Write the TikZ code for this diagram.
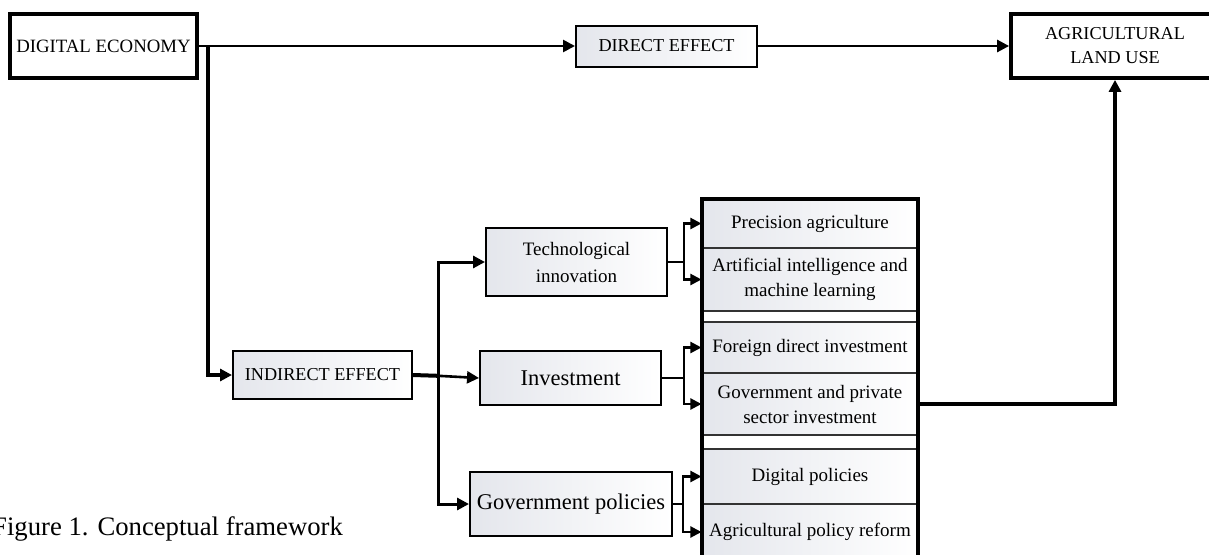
\documentclass[tikz,border=0pt]{standalone}
\usepackage{fontspec}
\setmainfont{Liberation Serif}
\usetikzlibrary{arrows.meta}
\definecolor{shadeL}{HTML}{E4E6EC}
\newcommand\cfCaps{\fontsize{18.2}{24}\selectfont}
\newcommand\cfMain{\fontsize{18.8}{24}\selectfont}
\newcommand\cfCell{\fontsize{19}{25}\selectfont}
\newcommand\cfTech{\fontsize{19}{27}\selectfont}
\newcommand\cfBig{\fontsize{22.5}{27}\selectfont}
\newcommand\cfFig{\fontsize{26.7}{32}\selectfont}
\begin{document}
\begin{tikzpicture}[x=1pt,y=-1pt,
  arr/.style={-{Triangle[length=12pt,width=12pt]}, line width=2.6pt},
  heavy/.style={draw, line width=3.8pt, fill=white, inner sep=0pt},
  shadedbox/.style={draw, line width=2pt, left color=shadeL, right color=white, inner sep=0pt, align=center},
  cell/.style={draw=black!80, line width=1.1pt, left color=shadeL, right color=white,
    inner sep=0pt, minimum width=216pt, align=center, font=\cfCell},
]
\useasboundingbox (0,0) rectangle (1209,554);
\clip (0,0) rectangle (1209,554);

% top row
\node[heavy, minimum width=187pt, minimum height=64pt, font=\cfMain] (de) at (103.5,46) {DIGITAL ECONOMY};
\node[shadedbox, minimum width=181pt, minimum height=41pt, font=\cfCaps] (direct) at (666.5,46) {DIRECT EFFECT};
\node[heavy, minimum width=208pt, minimum height=64pt, font=\cfCaps, align=center] (agr) at (1115,46) {AGRICULTURAL\\LAND USE};

% indirect channel
\node[shadedbox, minimum width=179pt, minimum height=48pt, font=\cfCaps] (indirect) at (322.5,375) {INDIRECT EFFECT};
\node[shadedbox, minimum width=181pt, minimum height=68pt, font=\cfTech] (tech) at (576.5,262) {Technological\\innovation};
\node[shadedbox, minimum width=181pt, minimum height=54pt, font=\cfBig] (invest) at (570.5,378) {Investment};
\node[shadedbox, minimum width=202pt, minimum height=64pt, font=\cfBig] (gov) at (571,504) {Government policies};

% column of mechanisms
\node[cell, minimum height=49pt] (c1) at (810,223.5) {Precision agriculture};
\node[cell, minimum height=63pt] (c2) at (810,279.5) {Artificial intelligence and\\machine learning};
\node[cell, minimum height=51pt] (c3) at (810,347.5) {Foreign direct investment};
\node[cell, minimum height=62pt] (c4) at (810,404) {Government and private\\sector investment};
\node[cell, minimum height=55pt] (c5) at (810,476.5) {Digital policies};
\node[cell, minimum height=56pt] (c6) at (810,532) {Agricultural policy reform};
\draw[line width=3.5pt] (702,199) rectangle (918,600);

% connectors
\coordinate (dx) at (208,46);
\coordinate (bx) at (438,375.8);
\draw[arr] (de.east) -- (direct.west);
\draw[arr] (direct.east) -- (agr.west);
\draw[arr, line width=3.2pt] (dx) |- (indirect.west);
\draw[line width=4pt] (indirect.east) -- (bx);
\draw[arr] (bx) -- (invest.west);
\draw[arr, line width=3pt] (bx) |- (tech.west);
\draw[arr, line width=3pt] (bx) |- (gov.west);

\path (tech.east) ++(16,0) coordinate (tb);
\path (invest.east) ++(22,0) coordinate (ib);
\path (gov.east) ++(10,0) coordinate (gb);
\draw[line width=2.2pt] (tech.east) -- (tb);
\draw[line width=2.2pt] (invest.east) -- (ib);
\draw[line width=2.2pt] (gov.east) -- (gb);
\foreach \s/\t in {tb/c1, tb/c2, ib/c3, ib/c4, gb/c5, gb/c6}
  \draw[-{Triangle[length=11pt,width=11pt]}, line width=2.2pt] (\s) |- (\t.west);

\draw[arr, line width=3.4pt] (c4.east) -| (agr.south);

% figure caption
\node[anchor=base west, inner sep=0pt, font=\cfFig] (fig) at (-8,535) {Figure 1. Conceptual framework};
\end{tikzpicture}
\end{document}
